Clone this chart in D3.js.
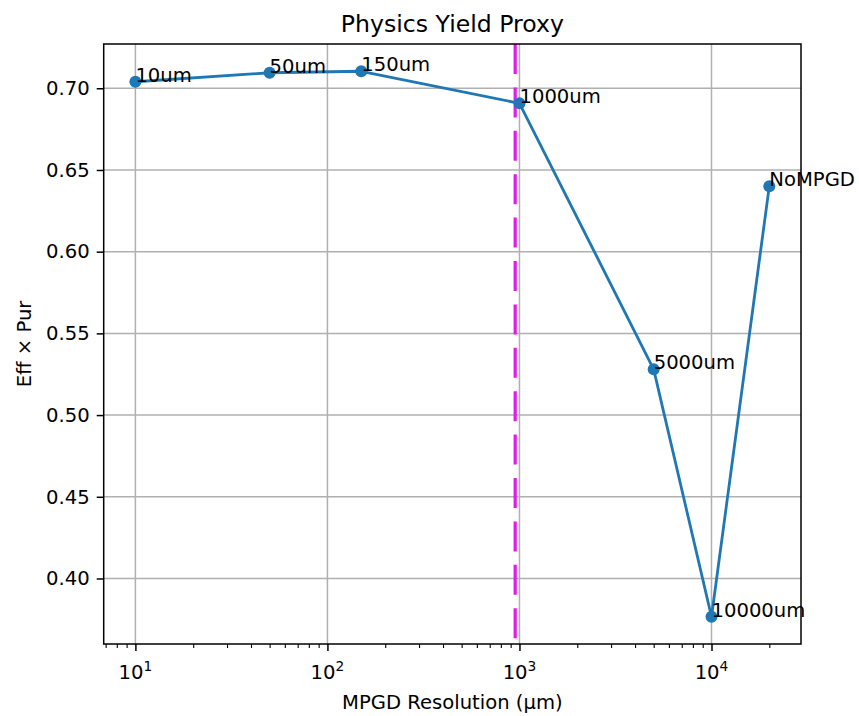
<!DOCTYPE html>
<html>
<head>
<meta charset="utf-8">
<script src="https://cdn.jsdelivr.net/npm/d3@7"></script>
<style>
  html, body { margin: 0; padding: 0; background: #fff; }
  svg { display: block; font-family: "DejaVu Sans", sans-serif; }
</style>
</head>
<body>
<svg id="chart" width="859" height="716"></svg>
<script>
// ---- data ----
const resolutions = [10, 50, 150, 1000, 5000, 10000, 20000];
const effPur = [0.704, 0.7095, 0.7104, 0.6908, 0.528, 0.3766, 0.6401];
const pointLabels = ["10um", "50um", "150um", "1000um", "5000um", "10000um", "NoMPGD"];
const xTickExponents = [1, 2, 3, 4];
const yTickValues = [0.40, 0.45, 0.50, 0.55, 0.60, 0.65, 0.70];
const thresholdRes = 950;
const titleText = "Physics Yield Proxy";
const xLabelText = "MPGD Resolution (μm)";
const yLabelText = "Eff × Pur";

// ---- layout ----
const L = 103.7, R = 801, T = 44, B = 644;
const fs = 19.6, titleFs = 23.6;
const svg = d3.select("#chart");

const lx = d3.extent(resolutions.map(Math.log10));
const lpad = (lx[1] - lx[0]) * 0.05;
const x = d3.scaleLog().domain([Math.pow(10, lx[0] - lpad), Math.pow(10, lx[1] + lpad)]).range([L, R]);
const ye = d3.extent(effPur);
const ypad = (ye[1] - ye[0]) * 0.05;
const y = d3.scaleLinear().domain([ye[0] - ypad, ye[1] + ypad]).range([B, T]);

const majorX = xTickExponents.map(e => Math.pow(10, e));
const [d0, d1] = x.domain();
const minorX = [];
for (let e = 0; e <= 5; e++) for (let m = 2; m <= 9; m++) {
  const v = m * Math.pow(10, e);
  if (v >= d0 && v <= d1) minorX.push(v);
}

// grid
const grid = svg.append("g");
grid.selectAll("line.gx").data(majorX).join("line")
  .attr("x1", d => x(d)).attr("x2", d => x(d)).attr("y1", T).attr("y2", B)
  .attr("stroke", "#b0b0b0").attr("stroke-width", 1.5);
grid.selectAll("line.gy").data(yTickValues).join("line")
  .attr("y1", d => y(d)).attr("y2", d => y(d)).attr("x1", L).attr("x2", R)
  .attr("stroke", "#b0b0b0").attr("stroke-width", 1.5);

// x axis
const xAxis = d3.axisBottom(x).tickValues(majorX).tickSize(7).tickFormat("");
const gx = svg.append("g").attr("transform", `translate(0,${B})`).call(xAxis);
gx.select(".domain").remove();
gx.selectAll(".tick line").attr("stroke", "#000").attr("stroke-width", 1.5);
const xMinor = d3.axisBottom(x).tickValues(minorX).tickSize(4).tickFormat("");
const gxm = svg.append("g").attr("transform", `translate(0,${B})`).call(xMinor);
gxm.select(".domain").remove();
gxm.selectAll(".tick line").attr("stroke", "#000").attr("stroke-width", 1.1);
const xl = svg.append("g").selectAll("text").data(xTickExponents).join("text")
  .attr("x", d => x(Math.pow(10, d))).attr("y", 679)
  .attr("text-anchor", "middle").attr("font-size", fs).attr("fill", "#000");
xl.append("tspan").text("10");
xl.append("tspan").attr("dy", -8).attr("font-size", fs * 0.7).text(d => d);

// y axis
const yAxis = d3.axisLeft(y).tickValues(yTickValues).tickSize(7).tickPadding(7).tickFormat(d3.format(".2f"));
const gy = svg.append("g").attr("transform", `translate(${L},0)`).call(yAxis);
gy.select(".domain").remove();
gy.selectAll(".tick line").attr("stroke", "#000").attr("stroke-width", 1.5);
gy.selectAll(".tick text").attr("font-size", fs).attr("fill", "#000").attr("font-family", "DejaVu Sans");

// threshold line
svg.append("line")
  .attr("x1", x(thresholdRes)).attr("x2", x(thresholdRes)).attr("y1", T).attr("y2", B)
  .attr("stroke", "#e01ce8").attr("stroke-width", 3.2).attr("stroke-dasharray", "30,13.4");

// series
svg.append("path").datum(resolutions.map((r, i) => [r, effPur[i]]))
  .attr("fill", "none").attr("stroke", "#1f77b4").attr("stroke-width", 2.8)
  .attr("stroke-linejoin", "round")
  .attr("d", d3.line().x(d => x(d[0])).y(d => y(d[1])));
svg.append("g").selectAll("circle").data(resolutions).join("circle")
  .attr("cx", d => x(d)).attr("cy", (d, i) => y(effPur[i])).attr("r", 6)
  .attr("fill", "#1f77b4");

// spines
svg.append("rect").attr("x", L).attr("y", T).attr("width", R - L).attr("height", B - T)
  .attr("fill", "none").attr("stroke", "#000").attr("stroke-width", 1.5);

// point labels
svg.append("g").selectAll("text").data(resolutions).join("text")
  .attr("x", d => x(d)).attr("y", (d, i) => y(effPur[i]))
  .attr("font-size", fs).attr("fill", "#000")
  .text((d, i) => pointLabels[i]);

// title & axis labels
svg.append("text").attr("x", (L + R) / 2).attr("y", 32).attr("text-anchor", "middle")
  .attr("font-size", titleFs).attr("fill", "#000").text(titleText);
svg.append("text").attr("x", (L + R) / 2).attr("y", 709).attr("text-anchor", "middle")
  .attr("font-size", fs).attr("fill", "#000").text(xLabelText);
svg.append("text").attr("transform", `translate(31,${(T + B) / 2}) rotate(-90)`)
  .attr("text-anchor", "middle").attr("font-size", fs).attr("fill", "#000").text(yLabelText);
</script>
</body>
</html>
